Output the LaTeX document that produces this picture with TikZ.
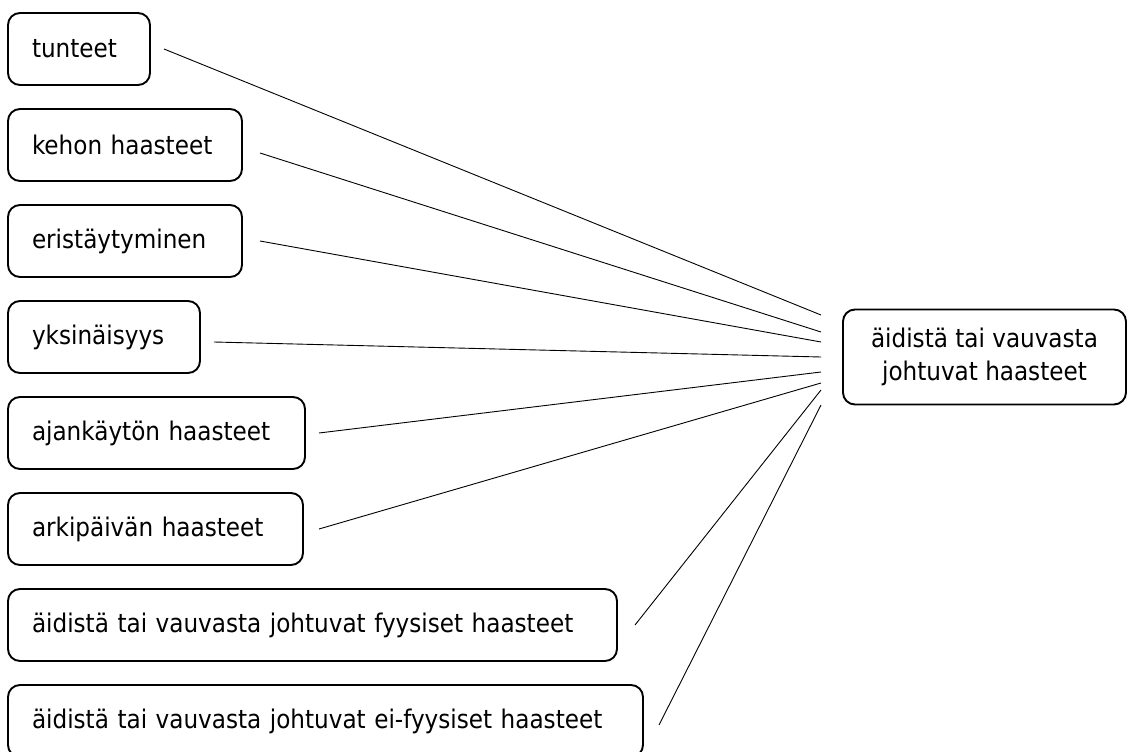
\documentclass[tikz,border=0pt]{standalone}
\usepackage{fontspec}
\setmainfont{DejaVu Sans Condensed}
\usepackage{tikz}
\usetikzlibrary{positioning}

\begin{document}
\begin{tikzpicture}[x=1pt, y=1pt, node distance=24pt, auto]
\tikzstyle{block} = [draw, rectangle, rounded corners=12pt, line width=1.9pt, outer sep=0pt, minimum height=72pt, inner xsep=24pt, align=left, font=\fontsize{25.7}{30}\selectfont]
\tikzstyle{hub} = [draw, rectangle, rounded corners=12pt, line width=1.9pt, outer sep=0pt, minimum width=283pt, minimum height=95pt, align=center, font=\fontsize{25.7}{33}\selectfont]
\tikzstyle{line} = [draw, line width=0.9pt]

\useasboundingbox (0,0) rectangle (1128,-752);

\node [block, text width=94pt, anchor=north west] (A) at (8,-13) {tunteet};
\node [block, text width=186pt, below=of A.south west, anchor=north west] (B) {kehon haasteet};
\node [block, text width=186pt, below=of B.south west, anchor=north west] (C) {eristäytyminen};
\node [block, text width=144pt, below=of C.south west, anchor=north west] (D) {yksinäisyys};
\node [block, text width=249pt, below=of D.south west, anchor=north west] (E) {ajankäytön haasteet};
\node [block, text width=247pt, below=of E.south west, anchor=north west] (F) {arkipäivän haasteet};
\node [block, text width=561pt, below=of F.south west, anchor=north west] (G) {äidistä tai vauvasta johtuvat fyysiset haasteet};
\node [block, text width=587pt, below=of G.south west, anchor=north west] (H) {äidistä tai vauvasta johtuvat ei-fyysiset haasteet};
\node [hub, anchor=west] (I) at (843,-357) {äidistä tai vauvasta\\johtuvat haasteet};

\path [line] ([xshift=14pt]A.east) -- ([xshift=-22pt, yshift=42pt]I.west);
\path [line] ([xshift=18pt, yshift=-8pt]B.east) -- ([xshift=-22pt, yshift=25pt]I.west);
\path [line] ([xshift=18pt]C.east) -- ([xshift=-22pt, yshift=15pt]I.west);
\path [line] ([xshift=14pt, yshift=-5pt]D.east) -- ([xshift=-22pt]I.west);
\path [line] ([xshift=14pt]E.east) -- ([xshift=-22pt, yshift=-15pt]I.west);
\path [line] ([xshift=16pt]F.east) -- ([xshift=-22pt, yshift=-26pt]I.west);
\path [line] ([xshift=18pt]G.east) -- ([xshift=-22pt, yshift=-33pt]I.west);
\path [line] ([xshift=16pt, yshift=-4pt]H.east) -- ([xshift=-22pt, yshift=-48pt]I.west);
\end{tikzpicture}
\end{document}
